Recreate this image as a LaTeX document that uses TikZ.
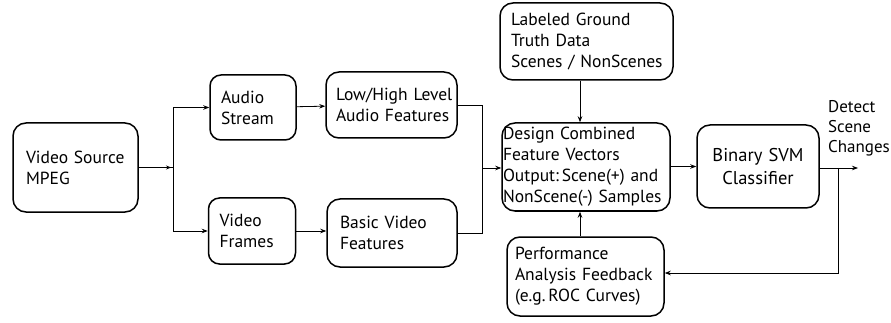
\documentclass[tikz,border=0pt]{standalone}
\usepackage{fontspec}
\setmainfont{PT Sans}
\usetikzlibrary{arrows.meta}
\begin{document}
\begin{tikzpicture}[x=1pt,y=-1pt,
  box/.style={draw, line width=1.5pt, rounded corners=13pt, align=left, inner ysep=0pt,
    font=\fontsize{17.5}{21}\selectfont},
  conn/.style={line width=0.8pt, -{Stealth[length=6pt,width=4.5pt]}},
  plain/.style={line width=0.8pt}]
\useasboundingbox (0,0) rectangle (891,323);
\node[box, minimum height=89pt, text width=99pt, inner xsep=13pt] (src) at (75.5,167.5) {\mbox{Video Source}\\MPEG};
\node[box, minimum height=65pt, text width=64pt, inner xsep=11pt, rounded corners=11pt] (aud) at (253,107.5) {Audio\\Stream};
\node[box, minimum height=66pt, text width=65pt, inner xsep=11pt, rounded corners=11pt] (vf) at (252,231) {Video\\Frames};
\node[box, minimum height=66pt, text width=111pt, inner xsep=10pt] (lh) at (391.5,105) {\mbox{Low/High Level}\\\mbox{Audio Features}};
\node[box, minimum height=68pt, text width=104pt, inner xsep=13pt] (bv) at (392,233) {\mbox{Basic Video}\\Features};
\node[box, minimum height=77pt, text width=151pt, inner xsep=11pt] (gt) at (586.5,41.5) {\mbox{Labeled Ground}\\\mbox{Truth Data}\\\mbox{Scenes / NonScenes}};
\node[box, minimum height=88pt, text width=166pt, inner xsep=1pt] (dc) at (586,167) {\mbox{Design Combined}\\\mbox{Feature Vectors}\\\mbox{Output:\,Scene(+) and}\\\mbox{NonScene(-) Samples}};
\node[box, minimum height=79pt, text width=141pt, inner xsep=8pt] (pf) at (585.5,276.5) {Performance\\\mbox{Analysis Feedback}\\\mbox{(e.g.\,ROC Curves)}};
\node[box, minimum height=83pt, text width=110pt, inner xsep=6pt, align=center, font=\fontsize{18.5}{23}\selectfont] (svm) at (758,166.5) {Binary SVM\\Classifier};
\node[align=left, anchor=north west, inner sep=0pt, font=\fontsize{17}{20}\selectfont] (det) at (828,100) {Detect\\Scene\\Changes};
\coordinate (j1) at (173,167.5);
\coordinate (j2) at (482,168);
\coordinate (out) at (858,168);
\coordinate (br) at (838,168);
\draw[line width=0.8pt, -{Stealth[length=5pt,width=4pt]}] (src.east) -- ([xshift=-2pt]j1);
\draw[plain] (src.east) -- (j1);
\draw[conn] (j1) |- (aud.west);
\draw[conn] (j1) |- (vf.west);
\draw[conn] (aud) -- (lh);
\draw[conn] (vf.east) -- (bv.west |- vf.east);
\draw[plain] (lh.east) -| (j2);
\draw[plain] (bv.east) -| (j2);
\draw[conn] (j2) -- (dc.west |- j2);
\draw[conn] (gt.south -| 580,0) -- (dc.north -| 580,0);
\draw[conn] (pf.north -| 580,0) -- (dc.south -| 580,0);
\draw[conn] (dc.east |- svm) -- (svm.west);
\draw[conn] (svm.east |- out) -- (out);
\draw[conn] (br) |- (pf.east |- 0,273);
\end{tikzpicture}
\end{document}
